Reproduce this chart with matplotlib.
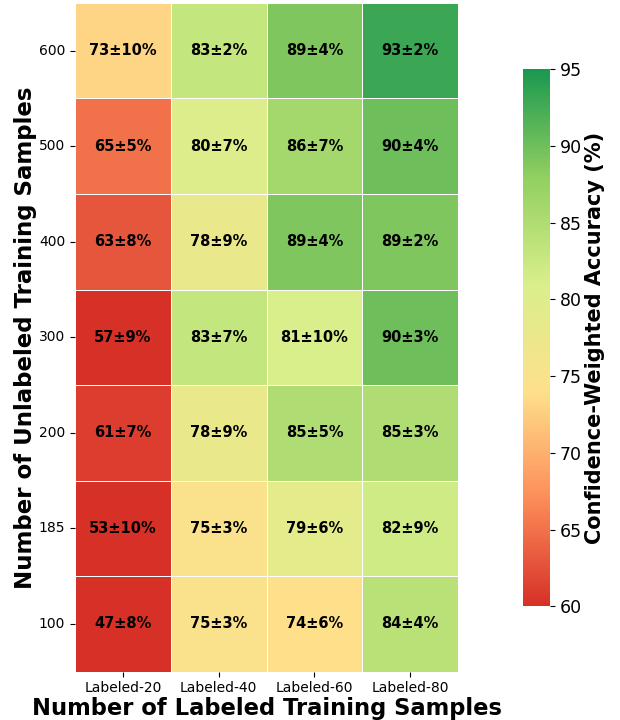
import numpy as np
import seaborn as sns
import matplotlib
matplotlib.use('Agg')
from matplotlib import pyplot as plt
from matplotlib.colors import LinearSegmentedColormap

unlabeled = [600, 500, 400, 300, 200, 185, 100]
labeled = ['Labeled-20', 'Labeled-40', 'Labeled-60', 'Labeled-80']

mean_acc = np.array([
    [73, 83, 89, 93],
    [65, 80, 86, 90],
    [63, 78, 89, 89],
    [57, 83, 81, 90],
    [61, 78, 85, 85],
    [53, 75, 79, 82],
    [47, 75, 74, 84],
])
std_acc = np.array([
    [10, 2, 4, 2],
    [5, 7, 7, 4],
    [8, 9, 4, 2],
    [9, 7, 10, 3],
    [7, 9, 5, 3],
    [10, 3, 6, 9],
    [8, 3, 6, 4],
])

labels = np.array([[f'{m}±{s}%' for m, s in zip(mr, sr)]
                   for mr, sr in zip(mean_acc, std_acc)])

# red -> yellow -> green, skipping the pale middle of RdYlGn
cmap = LinearSegmentedColormap.from_list(
    'acc', ['#d73027', '#fc8d59', '#fee08b', '#d9ef8b', '#91cf60', '#1a9850'])

plt.rcParams['font.family'] = ['DejaVu Sans']

fig = plt.figure(figsize=(6.2, 7.2), dpi=100)
ax = fig.add_axes([0.121, 0.067, 0.618, 0.929])
cax = fig.add_axes([0.844, 0.158, 0.0435, 0.746])

sns.heatmap(mean_acc, ax=ax, cbar_ax=cax, cmap=cmap, vmin=60, vmax=95,
            annot=labels, fmt='', linewidths=0.6, linecolor='white',
            annot_kws={'fontsize': 10.5, 'fontweight': 'bold', 'color': 'black'},
            xticklabels=labeled, yticklabels=unlabeled)

ax.tick_params(axis='both', labelsize=10)
ax.set_yticklabels(unlabeled, rotation=0)
ax.set_xlabel('Number of Labeled Training Samples', fontsize=16.3, fontweight='bold', labelpad=1)
ax.set_ylabel('Number of Unlabeled Training Samples', fontsize=16.5, fontweight='bold', labelpad=1)

cax.set_yticks(range(60, 96, 5))
cax.tick_params(labelsize=12.5)
cax.set_ylabel('Confidence-Weighted Accuracy (%)', fontsize=15, fontweight='bold', labelpad=2)

fig.savefig('out.png', dpi=100)
